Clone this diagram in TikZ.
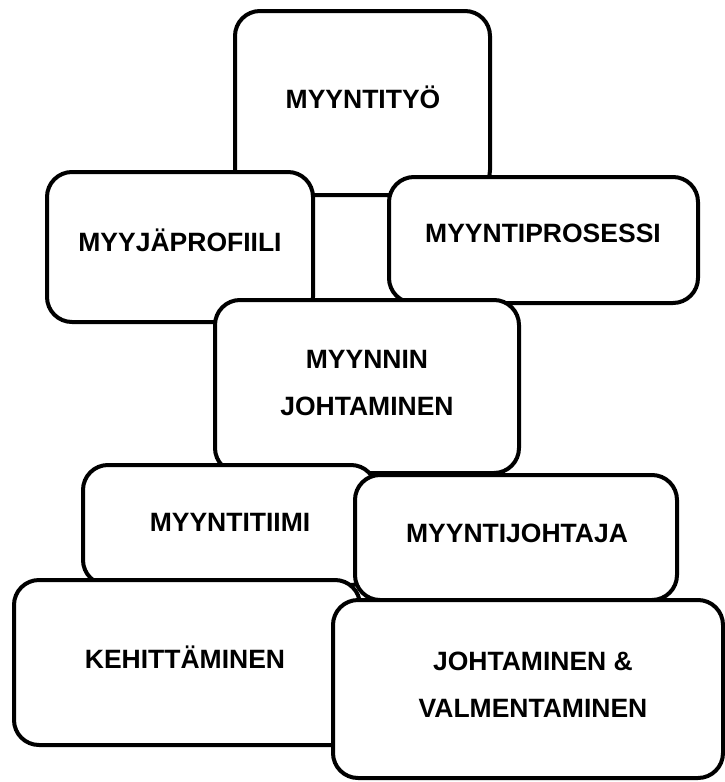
\documentclass[tikz,border=0pt]{standalone}
\usepackage{fontspec}
\setmainfont{Liberation Sans}
\begin{document}
\begin{tikzpicture}[x=1pt,y=-1pt,
  box/.style={draw=black, fill=white, line width=4pt, rounded corners=25pt, inner sep=0pt, outer sep=0pt},
  lbl/.style={inner sep=0pt, align=center, font=\bfseries\fontsize{26.5}{47}\selectfont}]
\useasboundingbox (0,0) rectangle (725,782);
% boxes drawn back to front: (left, top, right, bottom)
\node[box, minimum width=255pt, minimum height=184pt] (bA) at (362.5,103) {};
\node[box, minimum width=266pt, minimum height=150pt] (bB) at (180,247) {};
\node[box, minimum width=309pt, minimum height=126pt] (bC) at (543.5,240) {};
\node[box, minimum width=304pt, minimum height=173pt] (bD) at (367,386.5) {};
\node[box, minimum width=293pt, minimum height=120pt] (bE) at (229.5,525) {};
\node[box, minimum width=322pt, minimum height=125pt] (bF) at (516,537.5) {};
\node[box, minimum width=346pt, minimum height=165pt] (bG) at (187,662.5) {};
\node[box, minimum width=390pt, minimum height=178pt] (bH) at (528,689) {};
% labels
\node[lbl] (tA) at (363,97) {MYYNTITYÖ};
\node[lbl] (tB) at (180,240) {MYYJÄPROFIILI};
\node[lbl] (tC) at (543,233) {MYYNTIPROSESSI};
\node[lbl] (tD) at (367,383.5) {MYYNNIN\\JOHTAMINEN};
\node[lbl] (tE) at (230,522) {MYYNTITIIMI};
\node[lbl] (tF) at (517,533) {MYYNTIJOHTAJA};
\node[lbl] (tG) at (185,657) {KEHITTÄMINEN};
\node[lbl] (tH) at (533,684.5) {JOHTAMINEN \&\\VALMENTAMINEN};
\end{tikzpicture}
\end{document}
